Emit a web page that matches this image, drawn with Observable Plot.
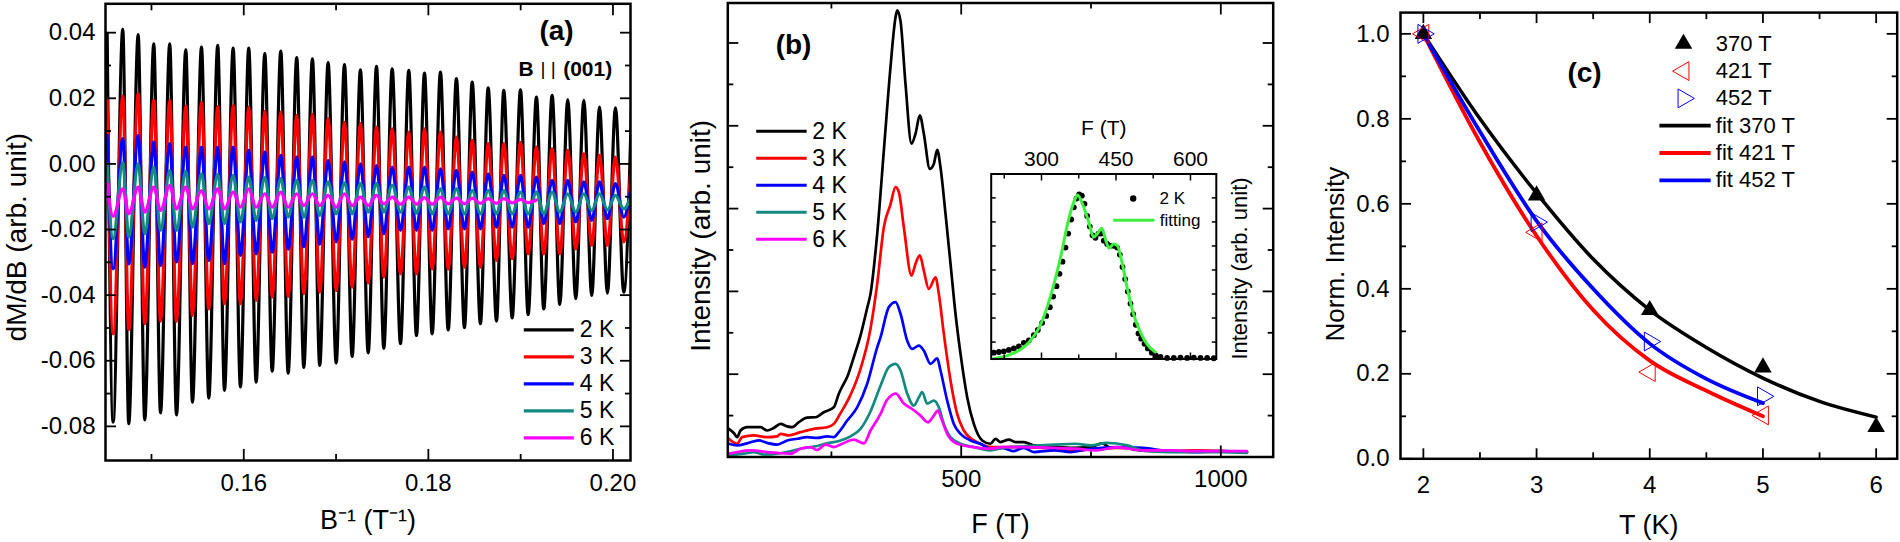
<!DOCTYPE html>
<html><head><meta charset="utf-8">
<script src="https://cdn.jsdelivr.net/npm/d3@7"></script>
<script src="https://cdn.jsdelivr.net/npm/@observablehq/plot@0.6"></script>
<style>
html,body{margin:0;padding:0;background:#fff;}
#root{position:relative;width:1900px;height:542px;overflow:hidden;}
svg{overflow:visible;}
</style></head><body><div id="root"></div>
<script>
// ---------------- Panel (a): dM/dB vs 1/B ----------------
const aTemps = ["2 K", "3 K", "4 K", "5 K", "6 K"];
const aColors = ["#000000", "#ff0000", "#0000ff", "#128a80", "#ff00ff"];
const aXLabels = [0.16, 0.18, 0.20];
const aXMinor = [0.15, 0.17, 0.19];
const aYLabels = [-0.08, -0.06, -0.04, -0.02, 0.00, 0.02, 0.04];
const aYMinor = [-0.07, -0.05, -0.03, -0.01, 0.01, 0.03];
// positions (1/B) of oscillation maxima and minima
const aMaxX = [0.14520, 0.14689, 0.14856, 0.15025, 0.15198, 0.15372, 0.15542, 0.15718, 0.15885, 0.16054, 0.16228, 0.16401, 0.16574, 0.16744, 0.16914, 0.17091, 0.17264, 0.17438, 0.17608, 0.17788, 0.17958, 0.18131, 0.18304, 0.18475, 0.18648, 0.18817, 0.18998, 0.19171, 0.19341, 0.19510, 0.19684, 0.19854, 0.20027, 0.20200];
const aMinX = [0.14585, 0.14754, 0.14927, 0.15098, 0.15271, 0.15444, 0.15621, 0.15791, 0.15964, 0.16134, 0.16308, 0.16481, 0.16650, 0.16823, 0.17001, 0.17174, 0.17348, 0.17517, 0.17698, 0.17871, 0.18041, 0.18215, 0.18391, 0.18564, 0.18738, 0.18908, 0.19081, 0.19250, 0.19424, 0.19597, 0.19770, 0.19940, 0.20117];
const a2KMax = [0.0398, 0.0410, 0.0394, 0.0366, 0.0366, 0.0348, 0.0356, 0.0361, 0.0353, 0.0353, 0.0336, 0.0344, 0.0324, 0.0320, 0.0309, 0.0303, 0.0287, 0.0297, 0.0290, 0.0285, 0.0277, 0.0280, 0.0260, 0.0249, 0.0232, 0.0224, 0.0226, 0.0204, 0.0209, 0.0196, 0.0194, 0.0173, 0.0171, 0.0165];
const a2KMin = [-0.0787, -0.0792, -0.0780, -0.0759, -0.0765, -0.0726, -0.0714, -0.0690, -0.0680, -0.0665, -0.0632, -0.0638, -0.0620, -0.0614, -0.0607, -0.0587, -0.0576, -0.0562, -0.0548, -0.0523, -0.0518, -0.0506, -0.0499, -0.0487, -0.0479, -0.0469, -0.0459, -0.0442, -0.0428, -0.0411, -0.0401, -0.0394, -0.0391];
const a3KMax = [0.0199, 0.0207, 0.0214, 0.0194, 0.0194, 0.0176, 0.0188, 0.0175, 0.0178, 0.0173, 0.0160, 0.0158, 0.0148, 0.0151, 0.0138, 0.0127, 0.0123, 0.0112, 0.0107, 0.0097, 0.0107, 0.0097, 0.0082, 0.0072, 0.0062, 0.0062, 0.0066, 0.0051, 0.0046, 0.0041, 0.0031, 0.0026, 0.0021, 0.0015];
const a3KMin = [-0.0518, -0.0505, -0.0487, -0.0479, -0.0480, -0.0462, -0.0442, -0.0426, -0.0426, -0.0416, -0.0406, -0.0404, -0.0396, -0.0391, -0.0386, -0.0376, -0.0363, -0.0345, -0.0335, -0.0335, -0.0320, -0.0320, -0.0315, -0.0315, -0.0294, -0.0289, -0.0274, -0.0274, -0.0274, -0.0259, -0.0248, -0.0248, -0.0238];
const a4KMax = [0.0087, 0.0077, 0.0087, 0.0067, 0.0062, 0.0051, 0.0051, 0.0051, 0.0051, 0.0041, 0.0036, 0.0026, 0.0021, 0.0021, 0.0011, 0.0006, 0.0000, -0.0005, -0.0010, -0.0010, -0.0010, -0.0015, -0.0020, -0.0025, -0.0030, -0.0035, -0.0035, -0.0040, -0.0050, -0.0050, -0.0055, -0.0055, -0.0060, -0.0062];
const a4KMin = [-0.0320, -0.0305, -0.0315, -0.0310, -0.0299, -0.0304, -0.0294, -0.0304, -0.0279, -0.0274, -0.0269, -0.0260, -0.0252, -0.0245, -0.0238, -0.0230, -0.0222, -0.0213, -0.0203, -0.0203, -0.0203, -0.0198, -0.0198, -0.0198, -0.0193, -0.0193, -0.0193, -0.0182, -0.0182, -0.0177, -0.0172, -0.0167, -0.0162];
const a5KMax = [0.0000, 0.0005, 0.0000, -0.0010, -0.0020, -0.0022, -0.0030, -0.0032, -0.0035, -0.0040, -0.0042, -0.0045, -0.0050, -0.0050, -0.0055, -0.0058, -0.0060, -0.0060, -0.0065, -0.0071, -0.0071, -0.0076, -0.0076, -0.0081, -0.0081, -0.0081, -0.0086, -0.0086, -0.0086, -0.0091, -0.0091, -0.0091, -0.0096, -0.0096];
const a5KMin = [-0.0228, -0.0223, -0.0213, -0.0203, -0.0203, -0.0193, -0.0182, -0.0182, -0.0177, -0.0172, -0.0167, -0.0162, -0.0162, -0.0157, -0.0152, -0.0152, -0.0147, -0.0147, -0.0147, -0.0150, -0.0152, -0.0152, -0.0152, -0.0152, -0.0152, -0.0152, -0.0152, -0.0152, -0.0147, -0.0147, -0.0142, -0.0140, -0.0137];
const a6KMax = [-0.0060, -0.0076, -0.0071, -0.0071, -0.0066, -0.0071, -0.0081, -0.0076, -0.0086, -0.0076, -0.0091, -0.0086, -0.0091, -0.0091, -0.0096, -0.0091, -0.0101, -0.0096, -0.0101, -0.0101, -0.0103, -0.0101, -0.0104, -0.0104, -0.0106, -0.0106, -0.0108, -0.0110];
const a6KMin = [-0.0160, -0.0152, -0.0147, -0.0142, -0.0137, -0.0137, -0.0137, -0.0137, -0.0132, -0.0132, -0.0132, -0.0132, -0.0127, -0.0127, -0.0132, -0.0127, -0.0127, -0.0122, -0.0123, -0.0123, -0.0123, -0.0122, -0.0122, -0.0120, -0.0120, -0.0119, -0.0118];

// ---------------- Panel (b): FFT spectra ----------------
const bTemps = ["2 K", "3 K", "4 K", "5 K", "6 K"];
const bColors = ["#000000", "#ff0000", "#0000ff", "#128a80", "#ff00ff"];
const bXLabels = [500, 1000];
const bXMinor = [250, 750];
const bYMajor = [2, 4, 6, 8, 10];
const bYMinor = [1, 3, 5, 7, 9];
const bF2K = [52.4, 62, 68.4, 75, 87.8, 113.4, 126.3, 139, 152, 164.9, 174.5, 187.2, 203.4, 219.4, 235.4, 254.6, 264.3, 270.8, 280.4, 293.1, 306, 318.9, 325.3, 338.2, 351, 363.8, 373.5, 376.7, 383, 392.7, 404.3, 412, 420.3, 428, 439.5, 447.2, 453.8, 460.1, 469.8, 479.4, 489, 498.7, 511.6, 524.3, 540.4, 556.4, 566, 575.7, 591.7, 604.6, 620.6, 639.8, 684.9, 710.5, 749, 771.6, 787.6, 813.2, 832.5, 877.5, 941.6, 999.4, 1050.8];
const bI2K = [0.68, 0.58, 0.48, 0.64, 0.72, 0.72, 0.64, 0.70, 0.80, 0.74, 0.72, 0.84, 0.95, 0.96, 1.08, 1.20, 1.53, 1.70, 1.93, 2.41, 2.93, 3.60, 3.94, 5.39, 7.40, 9.42, 10.62, 10.79, 10.54, 9.01, 7.57, 7.81, 8.25, 7.81, 6.96, 7.08, 7.42, 7.00, 5.87, 4.67, 3.46, 2.49, 1.44, 0.80, 0.40, 0.32, 0.44, 0.36, 0.42, 0.36, 0.36, 0.28, 0.24, 0.22, 0.24, 0.33, 0.22, 0.24, 0.18, 0.14, 0.14, 0.14, 0.12];
const bF3K = [52.4, 68.4, 78, 100.5, 126.3, 145.5, 152, 168, 190.5, 216.2, 241.9, 254.6, 267.6, 286.8, 306, 325.3, 338.2, 351, 363.8, 373.5, 379.9, 389.5, 404.3, 412, 420.3, 428, 437.6, 450.5, 456.9, 466.5, 479.4, 492.2, 505, 524.3, 543.5, 562.8, 580, 620, 680, 710, 760, 800, 850, 900, 950, 1000, 1050];
const bI3K = [0.44, 0.32, 0.48, 0.52, 0.48, 0.50, 0.56, 0.52, 0.60, 0.68, 0.72, 0.80, 1.06, 1.50, 2.13, 3.10, 4.18, 5.55, 6.10, 6.52, 6.40, 5.55, 4.38, 4.67, 4.87, 4.50, 4.06, 4.34, 3.94, 2.98, 1.85, 1.04, 0.64, 0.40, 0.28, 0.24, 0.24, 0.24, 0.20, 0.14, 0.20, 0.22, 0.18, 0.14, 0.16, 0.14, 0.12];
const bF4K = [52.4, 68.4, 87.8, 110.2, 126.3, 145.5, 164.9, 184.1, 203.4, 222.6, 241.9, 254.6, 264.3, 280.4, 299.6, 318.9, 338.2, 344.6, 360.6, 373.5, 383.1, 396, 405.6, 418.4, 428, 440.9, 453.8, 460.1, 473, 485.8, 498.7, 518, 537.2, 556.4, 580, 600, 620, 640, 680, 710, 750, 800, 850, 900, 950, 1000, 1050];
const bI4K = [0.32, 0.28, 0.33, 0.40, 0.34, 0.30, 0.40, 0.44, 0.48, 0.46, 0.50, 0.48, 0.60, 0.88, 1.20, 1.77, 2.65, 2.89, 3.62, 3.74, 3.46, 2.81, 2.61, 2.69, 2.57, 2.25, 2.38, 2.09, 1.36, 0.80, 0.56, 0.40, 0.32, 0.20, 0.22, 0.14, 0.22, 0.12, 0.16, 0.12, 0.20, 0.24, 0.22, 0.14, 0.12, 0.14, 0.12];
const bF5K = [52.4, 81.2, 100.5, 119.8, 145.5, 171.2, 190.5, 216.2, 241.9, 267.6, 286.8, 306, 325.3, 344.6, 360.6, 373.5, 383.1, 396, 408.8, 418.4, 424.8, 434.4, 447.2, 456.9, 466.5, 479.4, 498.7, 524.3, 556.4, 580, 620, 680, 720, 750, 780, 820, 850, 900, 950, 1000, 1050];
const bI5K = [0.04, 0.08, 0.12, 0.06, 0.08, 0.14, 0.20, 0.25, 0.33, 0.40, 0.50, 0.68, 1.10, 1.72, 2.17, 2.25, 2.09, 1.53, 1.24, 1.44, 1.57, 1.29, 1.36, 1.20, 0.80, 0.48, 0.32, 0.24, 0.16, 0.22, 0.26, 0.30, 0.32, 0.28, 0.34, 0.28, 0.16, 0.12, 0.12, 0.12, 0.10];
const bF6K = [52.4, 68.4, 94.1, 126.3, 152, 171.2, 190.5, 209.8, 222.6, 238.7, 254.6, 270.8, 293.1, 312.4, 325.3, 344.6, 356, 367, 374, 389.5, 405.6, 421.6, 435.7, 447.2, 454.9, 463.2, 473, 492.2, 524.3, 556.4, 580, 620, 680, 720, 760, 800, 850, 900, 950, 1000, 1050];
const bI6K = [0.08, 0.12, 0.16, 0.12, 0.09, 0.08, 0.20, 0.24, 0.17, 0.30, 0.24, 0.32, 0.42, 0.33, 0.64, 1.04, 1.36, 1.50, 1.53, 1.29, 1.16, 1.00, 0.84, 1.00, 1.12, 0.88, 0.56, 0.32, 0.24, 0.20, 0.24, 0.24, 0.22, 0.20, 0.16, 0.24, 0.16, 0.16, 0.14, 0.14, 0.14];

// inset: 2 K data (dots) and fitting (green)
const insetXLabels = [300, 450, 600];
const insetXMinor = [225, 375, 525];
const insetYTicks = [1.5, 3, 4.5, 6, 7.5, 9, 10.5];
const insetDotF = [204.0, 214.1, 224.2, 234.2, 244.3, 254.4, 264.4, 274.5, 284.6, 292.6, 301.3, 309.4, 316.8, 323.5, 330.2, 336.2, 342.3, 348.3, 353.7, 359.7, 365.1, 370.5, 375.8, 381.2, 386.6, 391.9, 397.3, 402.7, 408.7, 414.8, 420.1, 425.5, 432.2, 438.9, 445.6, 452.3, 457.7, 463.1, 468.5, 473.8, 479.2, 484.6, 489.9, 495.3, 500.7, 507.4, 514.1, 522.1, 530.2, 539.6, 553, 566.4, 579.9, 593.3, 606.7, 620.1, 633.6, 647];
const insetDotI = [0.84, 0.88, 0.92, 1.01, 1.10, 1.23, 1.45, 1.60, 1.93, 2.26, 2.70, 3.13, 3.68, 4.34, 4.99, 5.76, 6.52, 7.40, 8.27, 9.15, 9.91, 10.46, 10.72, 10.64, 10.13, 9.37, 8.71, 8.16, 8.01, 8.27, 8.27, 7.83, 7.62, 7.51, 7.51, 7.40, 6.96, 6.19, 5.43, 4.66, 3.90, 3.24, 2.58, 2.04, 1.71, 1.39, 1.10, 0.84, 0.66, 0.57, 0.51, 0.51, 0.53, 0.51, 0.53, 0.51, 0.51, 0.49];
const insetFitF = [204, 238, 272, 298, 318, 338, 354.6, 368, 372.5, 381, 394.7, 404.8, 412.8, 421.5, 429.6, 436.3, 445, 453, 461.8, 471.8, 485.3, 498.7, 512, 528.9];
const insetFitI = [0.46, 0.73, 1.39, 2.58, 4.34, 6.74, 9.15, 10.46, 10.68, 10.24, 9.04, 8.05, 8.27, 8.60, 7.83, 7.35, 7.62, 7.51, 6.52, 4.99, 3.24, 2.15, 1.39, 0.88];

// ---------------- Panel (c): normalized intensity vs T ----------------
const cXLabels = [2, 3, 4, 5, 6];
const cXMinor = [2.5, 3.5, 4.5, 5.5];
const cYLabels = [0, 0.2, 0.4, 0.6, 0.8, 1.0];
const cYMinor = [0.1, 0.3, 0.5, 0.7, 0.9];
const cT370 = [2, 3, 4, 5, 6];
const c370 = [1.0, 0.62, 0.35, 0.215, 0.075];
const cT421 = [2, 3, 4, 5];
const c421 = [1.0, 0.533, 0.204, 0.102];
const cT452 = [2, 3, 4, 5];
const c452 = [1.0, 0.557, 0.276, 0.147];
const fitT370 = [2, 2.5, 3, 3.5, 4, 4.5, 5, 5.5, 6];
const fit370 = [1.0, 0.80, 0.625, 0.47, 0.35, 0.262, 0.19, 0.135, 0.098];
const fitT421 = [2, 2.5, 3, 3.5, 4, 4.5, 5];
const fit421 = [1.0, 0.745, 0.525, 0.35, 0.231, 0.16, 0.10];
const fitT452 = [2, 2.5, 3, 3.5, 4, 4.5, 5];
const fit452 = [1.0, 0.77, 0.56, 0.40, 0.271, 0.188, 0.131];
const cLegendLabels = ["370 T", "421 T", "452 T", "fit 370 T", "fit 421 T", "fit 452 T"];

// ================= drawing =================
const FONT = '"Liberation Sans", Arial, Helvetica, sans-serif';
const STYLE = {fontFamily: FONT, fontSize: "24px", color: "#000", background: "transparent", overflow: "visible"};
const root = document.getElementById("root");
function place(node, left, top) {
  const d = document.createElement("div");
  d.style.cssText = `position:absolute;left:${left}px;top:${top}px;`;
  d.appendChild(node);
  root.appendChild(d);
}
function tk(axis, anchor, values, size, sw = 1.8) {
  return axis(values, {anchor, tickSize: -size, tickFormat: () => "", fill: "none", label: null, strokeWidth: sw});
}
const lbl = (s, o) => Plot.text([s], {text: d => d, textAnchor: "middle", lineAnchor: "middle", ...o});

// ---- Panel A ----
const aXDom = [0.14502, 0.2019], aYDom = [-0.0904, 0.0488];
const ax = d3.scaleLinear(aXDom, [105, 630]);
const ay = d3.scaleLinear(aYDom, [460, 3.3]);
function osc(maxV, minV) {
  const rows = [];
  maxV.forEach((v, i) => {
    rows.push({x: aMaxX[i], y: v});
    if (i < minV.length) rows.push({x: aMinX[i], y: minV[i]});
  });
  return rows;
}
const aSeries = [[a2KMax, a2KMin], [a3KMax, a3KMin], [a4KMax, a4KMin], [a5KMax, a5KMin], [a6KMax, a6KMin]];
const legA = aTemps.map((t, i) => ({t, c: aColors[i], x1: ax.invert(523.3), x2: ax.invert(573.3), xt: ax.invert(579.3), y: ay.invert(329.3 + 27 * i)}));
const plotA = Plot.plot({
  width: 660, height: 542, marginLeft: 105, marginRight: 30, marginTop: 3.3, marginBottom: 82,
  x: {domain: aXDom}, y: {domain: aYDom}, color: {type: "identity"}, style: STYLE,
  marks: [
    ...aSeries.map(([mx, mn], i) => Plot.line(osc(mx, mn), {x: "x", y: "y", stroke: aColors[i], strokeWidth: 3.2, curve: "monotone-x", clip: true})),
    Plot.link(legA, {x1: "x1", x2: "x2", y1: "y", y2: "y", stroke: "c", strokeWidth: 3.2}),
    Plot.text(legA, {x: "xt", y: "y", text: "t", textAnchor: "start", fontSize: 23}),
    lbl("(a)", {frameAnchor: "top-right", dx: -74, dy: 27.7, fontSize: 28, fontWeight: "bold"}),
    lbl("B", {frameAnchor: "top-right", dx: -104.5, dy: 65, fontSize: 21, fontWeight: "bold"}),
    lbl("| |", {frameAnchor: "top-right", dx: -82.3, dy: 65, fontSize: 19}),
    lbl("(001)", {frameAnchor: "top-right", dx: -42.8, dy: 65, fontSize: 21, fontWeight: "bold"}),
    lbl("B\u207B\u00B9 (T\u207B\u00B9)", {frameAnchor: "bottom", dy: 60, fontSize: 27}),
    lbl("dM/dB (arb. unit)", {frameAnchor: "left", dx: -88.7, dy: 5, rotate: -90, fontSize: 28}),
    Plot.axisX(aXLabels, {anchor: "bottom", tickSize: 0, tickPadding: 13, tickFormat: d => d.toFixed(2), label: null, fontSize: 24}),
    Plot.axisY(aYLabels, {anchor: "left", tickSize: 0, tickPadding: 10, tickFormat: d => d.toFixed(2), label: null, fontSize: 24}),
    tk(Plot.axisX, "bottom", aXLabels, 11), tk(Plot.axisX, "top", aXLabels, 11),
    tk(Plot.axisX, "bottom", aXMinor, 6), tk(Plot.axisX, "top", aXMinor, 6),
    tk(Plot.axisY, "left", aYLabels, 11), tk(Plot.axisY, "right", aYLabels, 11),
    tk(Plot.axisY, "left", aYMinor, 6), tk(Plot.axisY, "right", aYMinor, 6),
    Plot.frame({stroke: "#000", strokeWidth: 2.5})
  ]
});
place(plotA, 0, 0);

// ---- Panel B ----
const bXDom = [50.45, 1100.9], bYDom = [0, 10.966];
const bx = d3.scaleLinear(bXDom, [727.3, 1272.7]);
const by = d3.scaleLinear(bYDom, [456.5, 2.5]);
const bSeries = [[bF2K, bI2K], [bF3K, bI3K], [bF4K, bI4K], [bF5K, bI5K], [bF6K, bI6K]];
const legB = bTemps.map((t, i) => ({t, c: bColors[i], x1: bx.invert(755.7), x2: bx.invert(806.2), xt: bx.invert(811.7), y: by.invert(130.8 + 27 * i)}));
const plotB = Plot.plot({
  width: 640, height: 542, marginLeft: 67.3, marginRight: 27.3, marginTop: 2.5, marginBottom: 85.5,
  x: {domain: bXDom}, y: {domain: bYDom}, color: {type: "identity"}, style: STYLE,
  marks: [
    ...bSeries.map(([F, I], i) => Plot.line(F.map((f, j) => ({f, v: I[j]})), {x: "f", y: "v", stroke: bColors[i], strokeWidth: 2.7, curve: "monotone-x", clip: true})),
    Plot.link(legB, {x1: "x1", x2: "x2", y1: "y", y2: "y", stroke: "c", strokeWidth: 3}),
    Plot.text(legB, {x: "xt", y: "y", text: "t", textAnchor: "start", fontSize: 23}),
    lbl("(b)", {frameAnchor: "top-left", dx: 65.7, dy: 42.5, fontSize: 28, fontWeight: "bold"}),
    lbl("F (T)", {frameAnchor: "bottom", dy: 67, fontSize: 27}),
    lbl("Intensity (arb. unit)", {frameAnchor: "left", dx: -26.3, dy: 5.8, rotate: -90, fontSize: 28}),
    Plot.axisX(bXLabels, {anchor: "bottom", tickSize: 0, tickPadding: 13, tickFormat: d => String(d), label: null, fontSize: 24}),
    tk(Plot.axisX, "bottom", bXLabels, 11), tk(Plot.axisX, "top", bXLabels, 11),
    tk(Plot.axisX, "bottom", bXMinor, 5), tk(Plot.axisX, "top", bXMinor, 5),
    tk(Plot.axisY, "left", bYMajor, 11), tk(Plot.axisY, "right", bYMajor, 11),
    tk(Plot.axisY, "left", bYMinor, 6), tk(Plot.axisY, "right", bYMinor, 6),
    Plot.frame({stroke: "#000", strokeWidth: 2.5})
  ]
});
place(plotB, 660, 0);

// ---- Inset ----
const iXDom = [198.7, 652], iYDom = [0.443, 11.99];
const ix = d3.scaleLinear(iXDom, [990.7, 1215.8]);
const iy = d3.scaleLinear(iYDom, [358.5, 173.5]);
const insetDots = insetDotF.map((f, j) => ({f, v: insetDotI[j]}));
const insetFit = insetFitF.map((f, j) => ({f, v: insetFitI[j]}));
const GREEN = "#3ef03e";
const plotI = Plot.plot({
  width: 300, height: 280, marginLeft: 30.7, marginRight: 44.2, marginTop: 73.5, marginBottom: 21.5,
  x: {domain: iXDom}, y: {domain: iYDom}, style: STYLE,
  marks: [
    Plot.dot(insetDots, {x: "f", y: "v", r: 2.9, fill: "#000"}),
    Plot.line(insetFit, {x: "f", y: "v", stroke: GREEN, strokeWidth: 3, curve: "monotone-x"}),
    Plot.dot([{x: ix.invert(1132.7), y: iy.invert(198)}], {x: "x", y: "y", r: 3.2, fill: "#000"}),
    Plot.text([{x: ix.invert(1159), y: iy.invert(198), t: "2 K"}], {x: "x", y: "y", text: "t", textAnchor: "start", fontSize: 17}),
    Plot.link([{x1: ix.invert(1112.7), x2: ix.invert(1154), y: iy.invert(219.8)}], {x1: "x1", x2: "x2", y1: "y", y2: "y", stroke: GREEN, strokeWidth: 3}),
    Plot.text([{x: ix.invert(1159.3), y: iy.invert(219.8), t: "fitting"}], {x: "x", y: "y", text: "t", textAnchor: "start", fontSize: 17}),
    lbl("F (T)", {frameAnchor: "top", dy: -45.5, fontSize: 21}),
    lbl("Intensity (arb. unit)", {frameAnchor: "right", dx: 23.9, dy: 2, rotate: -90, fontSize: 22}),
    Plot.axisX(insetXLabels, {anchor: "top", tickSize: 0, tickPadding: 8, tickFormat: d => String(d), label: null, fontSize: 21}),
    tk(Plot.axisX, "top", insetXLabels, 6, 1.5), tk(Plot.axisX, "bottom", insetXLabels, 6, 1.5),
    tk(Plot.axisX, "top", insetXMinor, 4, 1.5), tk(Plot.axisX, "bottom", insetXMinor, 4, 1.5),
    tk(Plot.axisY, "left", insetYTicks, 5, 1.5), tk(Plot.axisY, "right", insetYTicks, 5, 1.5),
    Plot.frame({stroke: "#000", strokeWidth: 2})
  ]
});
place(plotI, 960, 100);

// ---- Panel C ----
const cXDom = [1.798, 6.186], cYDom = [0, 1.05];
const cx = d3.scaleLinear(cXDom, [1400, 1896.7]);
const cy = d3.scaleLinear(cYDom, [458.3, 12.1]);
const pts = (T, V) => T.map((t, j) => ({t, v: V[j]}));
const cRowY = i => cy.invert(43.3 + 27.3 * i);
const legC = cLegendLabels.map((s, i) => ({s, x: cx.invert(1715.3), y: cRowY(i)}));
const legCLines = [["#000000", 3], ["#ff0000", 4], ["#0000ff", 5]].map(([c, i]) => ({c, x1: cx.invert(1658.9), x2: cx.invert(1710.2), y: cRowY(i)}));
const symX = cx.invert(1683);
const plotC = Plot.plot({
  width: 600, height: 542, marginLeft: 100, marginRight: 3.3, marginTop: 12.1, marginBottom: 83.7,
  x: {domain: cXDom}, y: {domain: cYDom}, color: {type: "identity"}, style: STYLE,
  marks: [
    Plot.line(pts(fitT370, fit370), {x: "t", y: "v", stroke: "#000000", strokeWidth: 3.5, curve: "monotone-x"}),
    Plot.line(pts(fitT421, fit421), {x: "t", y: "v", stroke: "#ff0000", strokeWidth: 3.8, curve: "monotone-x"}),
    Plot.line(pts(fitT452, fit452), {x: "t", y: "v", stroke: "#0000ff", strokeWidth: 3.8, curve: "monotone-x"}),
    Plot.dot(pts(cT370, c370), {x: "t", y: "v", symbol: "triangle", r: 6.5, fill: "#000"}),
    Plot.dot(pts(cT421, c421), {x: "t", y: "v", symbol: "triangle", r: 7, fill: "none", stroke: "#ff0000", strokeWidth: 1, rotate: -90}),
    Plot.dot(pts(cT452, c452), {x: "t", y: "v", symbol: "triangle", r: 7, fill: "none", stroke: "#0000ff", strokeWidth: 1, rotate: 90}),
    Plot.dot([{x: symX, y: cRowY(0)}], {x: "x", y: "y", symbol: "triangle", r: 6.5, fill: "#000"}),
    Plot.dot([{x: symX, y: cRowY(1)}], {x: "x", y: "y", symbol: "triangle", r: 7, fill: "none", stroke: "#ff0000", strokeWidth: 1, rotate: -90}),
    Plot.dot([{x: symX, y: cRowY(2)}], {x: "x", y: "y", symbol: "triangle", r: 7, fill: "none", stroke: "#0000ff", strokeWidth: 1, rotate: 90}),
    Plot.link(legCLines, {x1: "x1", x2: "x2", y1: "y", y2: "y", stroke: "c", strokeWidth: 3.8}),
    Plot.text(legC, {x: "x", y: "y", text: "s", textAnchor: "start", fontSize: 22}),
    lbl("(c)", {frameAnchor: "top-left", dx: 184, dy: 60.6, fontSize: 28, fontWeight: "bold"}),
    lbl("T (K)", {frameAnchor: "bottom", dy: 66.7, fontSize: 27}),
    lbl("Norm. Intensity", {frameAnchor: "left", dx: -65.3, dy: 18.4, rotate: -90, fontSize: 26}),
    Plot.axisX(cXLabels, {anchor: "bottom", tickSize: 0, tickPadding: 17, tickFormat: d => String(d), label: null, fontSize: 24}),
    Plot.axisY(cYLabels, {anchor: "left", tickSize: 0, tickPadding: 11, tickFormat: d => d.toFixed(1), label: null, fontSize: 24}),
    tk(Plot.axisX, "bottom", cXLabels, 10), tk(Plot.axisX, "top", cXLabels, 10),
    tk(Plot.axisX, "bottom", cXMinor, 6), tk(Plot.axisX, "top", cXMinor, 6),
    tk(Plot.axisY, "left", cYLabels, 11), tk(Plot.axisY, "right", cYLabels, 11),
    tk(Plot.axisY, "left", cYMinor, 6), tk(Plot.axisY, "right", cYMinor, 6),
    Plot.frame({stroke: "#000", strokeWidth: 2.5})
  ]
});
place(plotC, 1300, 0);
</script></body></html>
